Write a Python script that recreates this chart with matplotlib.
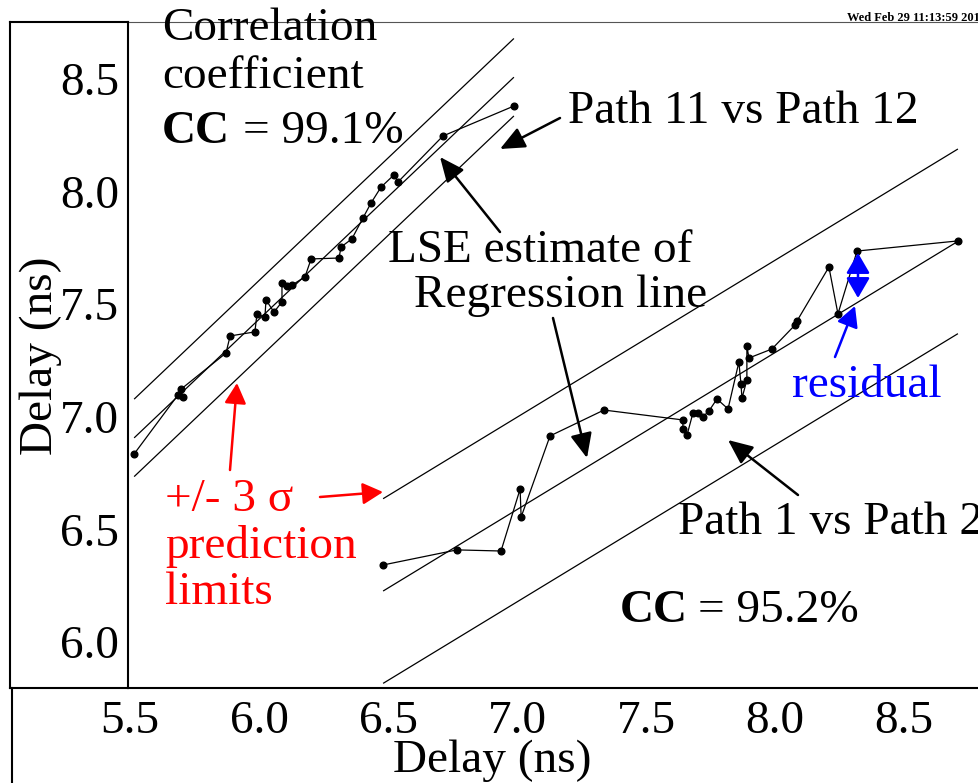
import matplotlib
matplotlib.use('Agg')
import matplotlib.pyplot as plt
from matplotlib.lines import Line2D
import numpy as np

plt.rcParams['font.family'] = ['Liberation Serif', 'DejaVu Serif']

# ---------------- data ----------------
# Path 11 vs Path 12 (upper-left series)
p11_x = [5.516, 5.686, 5.705, 5.698, 5.872, 5.888, 5.984, 5.992, 6.023, 6.027,
         6.058, 6.089, 6.089, 6.108, 6.128, 6.178, 6.202, 6.310, 6.318, 6.360,
         6.403, 6.434, 6.473, 6.523, 6.539, 6.713, 6.988]
p11_y = [6.835, 7.097, 7.088, 7.123, 7.283, 7.359, 7.377, 7.456, 7.443, 7.519,
         7.465, 7.510, 7.594, 7.581, 7.585, 7.621, 7.701, 7.705, 7.754, 7.790,
         7.883, 7.949, 8.020, 8.074, 8.043, 8.247, 8.380]
p11_fit = [0.905, 1.088]      # intercept, slope of LSE regression line
p11_3sigma = 0.172            # +/- 3 sigma prediction limit

# Path 1 vs Path 2 (lower-right series)
p1_x = [6.481, 6.767, 6.938, 7.012, 7.016, 7.128, 7.337, 7.643, 7.643, 7.659,
        7.682, 7.702, 7.721, 7.744, 7.775, 7.818, 7.860, 7.868, 7.872, 7.891,
        7.891, 7.899, 7.988, 8.078, 8.085, 8.209, 8.244, 8.318, 8.709]
p1_y = [6.342, 6.409, 6.404, 6.679, 6.555, 6.915, 7.030, 6.986, 6.946, 6.919,
        7.017, 7.017, 7.000, 7.026, 7.079, 7.035, 7.243, 7.146, 7.083, 7.163,
        7.314, 7.261, 7.301, 7.408, 7.425, 7.665, 7.457, 7.736, 7.781]
p1_fit = [1.709, 0.697]
p1_3sigma = 0.41

x_ticks = [5.5, 6.0, 6.5, 7.0, 7.5, 8.0, 8.5]
y_ticks = [6.0, 6.5, 7.0, 7.5, 8.0, 8.5]
x_label = 'Delay (ns)'
y_label = 'Delay (ns)'

# ---------------- figure ----------------
W, H = 979, 783
fig = plt.figure(figsize=(W / 100, H / 100), dpi=100)
ax = fig.add_axes([128 / W, 1 - 688 / H, (W - 128) / W, (688 - 22) / H])


def fx(px):
    return px / W


def fy(py):
    return 1 - py / H


for xs_, ys_, fit, band in [(p11_x, p11_y, p11_fit, p11_3sigma),
                            (p1_x, p1_y, p1_fit, p1_3sigma)]:
    xe = np.array([min(xs_), max(xs_)])
    yc = fit[0] + fit[1] * xe
    for off in (-band, 0.0, band):
        ax.plot(xe, yc + off, color='black', lw=0.9, solid_capstyle='butt')
    ax.plot(xs_, ys_, '-o', color='black', lw=0.9, ms=4.8)

ax.set_xlim(5.4922, 8.7907)
ax.set_ylim(5.7957, 8.7531)
ax.set_xticks(x_ticks)
ax.set_xticklabels([f'{v:.1f}' for v in x_ticks])
ax.set_yticks(y_ticks)
ax.set_yticklabels([f'{v:.1f}' for v in y_ticks])
ax.tick_params(axis='both', length=0, labelsize=34)
ax.tick_params(axis='y', pad=6.5)
ax.tick_params(axis='x', pad=9)
ax.spines['right'].set_visible(False)
ax.spines['left'].set_linewidth(1.5)
ax.spines['bottom'].set_linewidth(1.5)
ax.spines['top'].set_linewidth(0.8)
ax.spines['top'].set_color('#555555')

# frame lines around the tick-label area
for (x0, y0, x1, y1) in [(10, 22, 10, 688), (10, 22, 128, 22),
                         (10, 688, 128, 688), (12, 688, 12, 783)]:
    fig.add_artist(Line2D([fx(x0), fx(x1)], [fy(y0), fy(y1)],
                          transform=fig.transFigure, color='black', lw=1.5))

# axis labels
fig.text(fx(41), fy(356), y_label, rotation=90, ha='center', va='center',
         fontsize=34)
fig.text(fx(492), fy(772), x_label, ha='center', va='baseline', fontsize=34)

FS = 34


def t(px, py, s, **kw):
    fig.text(fx(px), fy(py), s, ha='left', va='baseline', fontsize=FS, **kw)


t(162, 40, 'Correlation')
t(162, 88, 'coefficient')
t(162, 143, 'CC', fontweight='bold')
t(243, 143, '= 99.1%')
t(568, 123, 'Path 11 vs Path 12')
t(388, 262, 'LSE estimate of')
t(414, 307, 'Regression line')
t(165, 511, '+/- 3 σ', color='red')
t(165, 558, 'prediction', color='red')
t(165, 604, 'limits', color='red')
t(678, 534, 'Path 1 vs Path 2')
t(620, 622, 'CC', fontweight='bold')
t(698, 622, '= 95.2%')
t(792, 397, 'residual', color='blue')
fig.text(fx(847), fy(21), 'Wed Feb 29 11:13:59 2012', ha='left',
         va='baseline', fontsize=9, fontweight='bold')


def arrow(x0, y0, x1, y1, color='black', style='-|>', hl=0.75, hw=0.33,
          lw=1.8):
    ax.annotate('', xy=(fx(x1), fy(y1)), xytext=(fx(x0), fy(y0)),
                xycoords='figure fraction', textcoords='figure fraction',
                arrowprops=dict(arrowstyle=f'{style},head_length={hl},head_width={hw}',
                                color=color, lw=lw, shrinkA=0, shrinkB=0,
                                mutation_scale=20))


arrow(560, 118, 500, 149)
arrow(500, 232, 440, 157)
arrow(553, 318, 587, 458)
arrow(798, 495, 728, 440)
arrow(230, 470, 237, 383, color='red', hl=0.62)
arrow(320, 497, 383, 492, color='red', hl=0.62)
arrow(835, 357, 855, 306, color='blue', hl=0.62)
arrow(858, 298, 858, 253, color='blue', style='<|-|>', hl=0.62, hw=0.36)

fig.savefig('out.png', dpi=100)
